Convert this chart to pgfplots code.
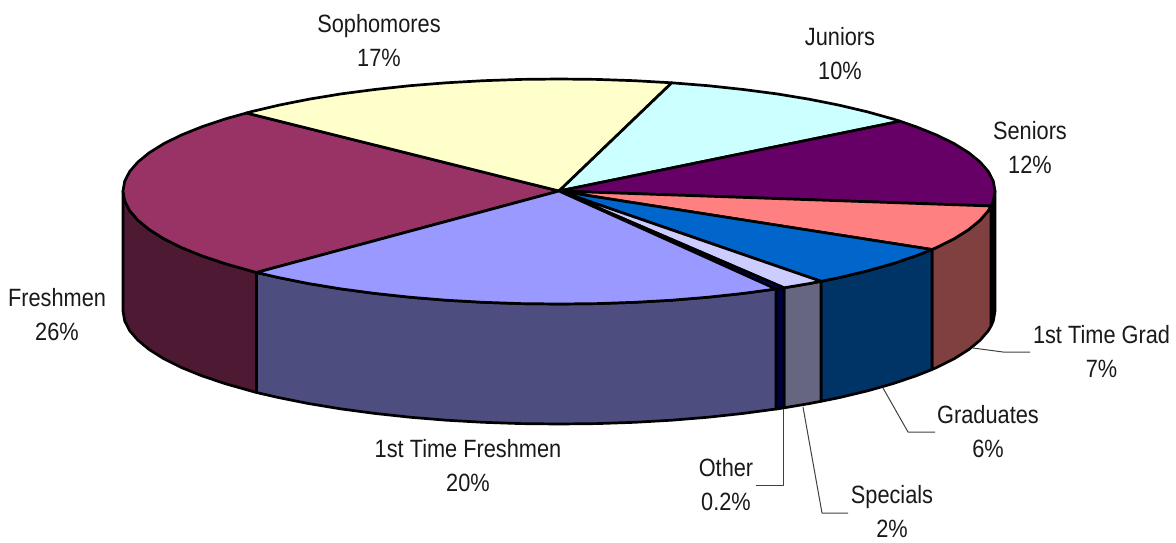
\documentclass[border=0pt]{standalone}
\usepackage{pgfplots}
\pgfplotsset{compat=1.18}
\usepackage{fontspec}
\setmainfont[FakeStretch=0.87]{Liberation Sans}
\definecolor{cSoph}{HTML}{FFFFCC}
\definecolor{cJun}{HTML}{CCFFFF}
\definecolor{cSen}{HTML}{660066}
\definecolor{cGr1}{HTML}{FF8080}
\definecolor{cGrad}{HTML}{0066CC}
\definecolor{cSpec}{HTML}{CCCCFF}
\definecolor{cOth}{HTML}{000080}
\definecolor{cFr1}{HTML}{9999FF}
\definecolor{cFr}{HTML}{993366}
\definecolor{wSen}{HTML}{100010}
\definecolor{wGr1}{HTML}{804040}
\definecolor{wGrad}{HTML}{003366}
\definecolor{wSpec}{HTML}{666680}
\definecolor{wOth}{HTML}{000040}
\definecolor{wFr1}{HTML}{4D4D80}
\definecolor{wFr}{HTML}{4D1933}
\tikzset{
  slice/.style={draw=black, line width=2.7pt, line join=round},
  leader/.style={draw=black!75, line width=1pt, line join=round},
  lab/.style={font=\fontsize{25}{34}\selectfont, align=center, text=black!90, inner sep=0pt},
}
\begin{document}
\begin{tikzpicture}
\begin{axis}[
  hide axis, scale only axis, width=1176pt, height=542pt,
  xmin=0, xmax=1176, ymin=0, ymax=542, y dir=reverse,
  enlargelimits=false, clip=false,
]
% page extent
\path (axis cs:0,0) rectangle (axis cs:1176,542);
% side walls
\addplot[slice, fill=wSen] coordinates {(995,191)(995,311)(993.3,320.9)(991,326)(991,206)} --cycle;
\addplot[slice, fill=wGr1] coordinates {(991,206)(988.4,210.6)(980.1,220.2)(968.7,229.6)(954.1,238.8)(936.6,247.5)(932,249.5)
  (932,369.5)(936.6,367.5)(954.1,358.8)(968.7,349.6)(980.1,340.2)(988.4,330.6)(991,326)} --cycle;
\addplot[slice, fill=wGrad] coordinates {(932,249.5)(916.2,255.8)(893,263.6)(867.3,270.9)(839.3,277.6)(821,281.3)
  (821,401.3)(839.3,397.6)(867.3,390.9)(893,383.6)(916.2,375.8)(932,369.5)} --cycle;
\addplot[slice, fill=wSpec] coordinates {(821,281.3)(809.1,283.6)(784,287.8)(784,407.8)(809.1,403.6)(821,401.3)} --cycle;
\addplot[slice, fill=wOth] coordinates {(784,287.8)(777,288.9)(776,289)(776,409)(777,408.9)(784,407.8)} --cycle;
\addplot[slice, fill=wFr1] coordinates {(776,289)(743.3,293.4)(708.1,297.2)(671.8,300.2)(634.7,302.3)(597,303.6)(559,304)(521,303.6)(483.3,302.3)(446.2,300.2)(409.9,297.2)(374.7,293.4)(341,288.9)(308.9,283.6)(278.7,277.6)(256.5,272.5)
  (256.5,392.5)(278.7,397.6)(308.9,403.6)(341,408.9)(374.7,413.4)(409.9,417.2)(446.2,420.2)(483.3,422.3)(521,423.6)(559,424)(597,423.6)(634.7,422.3)(671.8,420.2)(708.1,417.2)(743.3,413.4)(776,409)} --cycle;
\addplot[slice, fill=wFr] coordinates {(256.5,272.5)(250.7,270.9)(225,263.6)(201.8,255.8)(181.4,247.5)(163.9,238.8)(149.3,229.6)(137.9,220.2)(129.6,210.6)(124.7,200.9)(123,191)
  (123,311)(124.7,320.9)(129.6,330.6)(137.9,340.2)(149.3,349.6)(163.9,358.8)(181.4,367.5)(201.8,375.8)(225,383.6)(250.7,390.9)(256.5,392.5)} --cycle;
% top faces
\addplot[slice, fill=cFr] coordinates {(559,191)(256.5,272.5)(250.7,270.9)(225,263.6)(201.8,255.8)(181.4,247.5)(163.9,238.8)(149.3,229.6)(137.9,220.2)(129.6,210.6)(124.7,200.9)(123,191)(124.7,181.2)(129.6,171.6)(137.9,162)(149.3,152.7)(163.9,143.6)(181.4,135)(201.8,126.8)(225,119)(246.5,113)} --cycle;
\addplot[slice, fill=cSoph] coordinates {(559,191)(246.5,113)(250.7,111.8)(278.7,105.2)(308.9,99.2)(341,93.9)(374.7,89.5)(409.9,85.7)(446.2,82.8)(483.3,80.7)(521,79.4)(559,79)(597,79.4)(634.7,80.7)(671.8,82.8)} --cycle;
\addplot[slice, fill=cJun] coordinates {(559,191)(671.8,82.8)(708.1,85.7)(743.3,89.5)(777,93.9)(809.1,99.2)(839.3,105.2)(867.3,111.8)(893,119)(900,121.2)} --cycle;
\addplot[slice, fill=cSen] coordinates {(559,191)(900,121.2)(916.2,126.8)(936.6,135)(954.1,143.6)(968.7,152.7)(980.1,162)(988.4,171.6)(993.3,181.2)(995,191)(993.3,200.9)(991,206)} --cycle;
\addplot[slice, fill=cGr1] coordinates {(559,191)(991,206)(988.4,210.6)(980.1,220.2)(968.7,229.6)(954.1,238.8)(936.6,247.5)(932,249.5)} --cycle;
\addplot[slice, fill=cGrad] coordinates {(559,191)(932,249.5)(916.2,255.8)(893,263.6)(867.3,270.9)(839.3,277.6)(821,281.3)} --cycle;
\addplot[slice, fill=cSpec] coordinates {(559,191)(821,281.3)(809.1,283.6)(784,287.8)} --cycle;
\addplot[slice, fill=cOth] coordinates {(559,191)(784,287.8)(777,288.9)(776,289)} --cycle;
\addplot[slice, fill=cFr1] coordinates {(559,191)(776,289)(743.3,293.4)(708.1,297.2)(671.8,300.2)(634.7,302.3)(597,303.6)(559,304)(521,303.6)(483.3,302.3)(446.2,300.2)(409.9,297.2)(374.7,293.4)(341,288.9)(308.9,283.6)(278.7,277.6)(256.5,272.5)} --cycle;
% leader lines
\addplot[leader] coordinates {(973,348)(1003,352)(1030,352)};
\addplot[leader] coordinates {(883,388)(908,432)(935,432)};
\addplot[leader] coordinates {(803,407)(822,513)(848,513)};
\addplot[leader] coordinates {(783,409)(783,485)(756,485)};
% labels
\node[lab] at (axis cs:379,40.5) {Sophomores\\17\%};
\node[lab] at (axis cs:840,54) {Juniors\\10\%};
\node[lab] at (axis cs:1030,148) {Seniors\\12\%};
\node[lab] at (axis cs:1101.5,351.5) {1st Time Grad\\7\%};
\node[lab] at (axis cs:988,432) {Graduates\\6\%};
\node[lab] at (axis cs:892,512) {Specials\\2\%};
\node[lab] at (axis cs:726,485) {Other\\0.2\%};
\node[lab] at (axis cs:468,466) {1st Time Freshmen\\20\%};
\node[lab] at (axis cs:57,315) {Freshmen\\26\%};
\end{axis}
\end{tikzpicture}
\end{document}
